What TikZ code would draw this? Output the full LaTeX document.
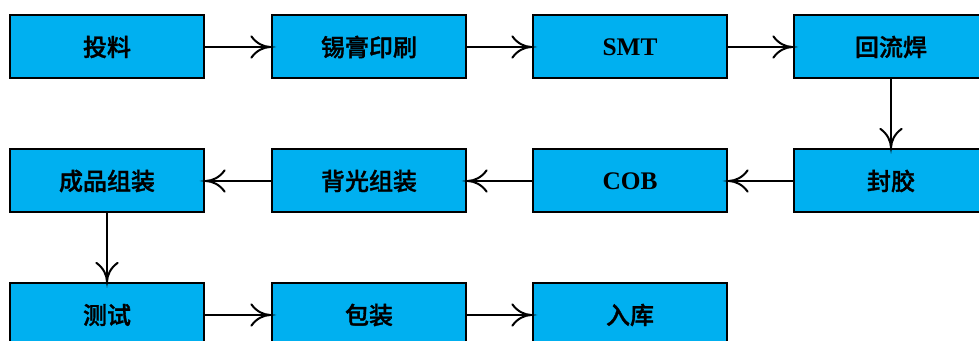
\documentclass[tikz,border=0pt]{standalone}
\usepackage{fontspec}
\setmainfont{Liberation Serif}
\newfontfamily\cjk{Noto Sans CJK SC}[UprightFont=* Medium, BoldFont=* Medium, BoldFeatures={FakeBold=1.2}]
\usetikzlibrary{decorations.markings}
\definecolor{boxblue}{HTML}{00B0F0}
\tikzset{
  procbox/.style={draw=black, line width=1.5pt, fill=boxblue, minimum width=194*0.75pt, minimum height=63*0.75pt, inner sep=0pt, font=\fontsize{18}{20}\selectfont\bfseries},
  latin/.style={font=\fontsize{19}{21}\selectfont\bfseries},
  flow/.style={draw=black, line width=1.5pt, postaction={decorate, decoration={markings, mark=at position 1 with {
    \draw[line width=1.5pt, line cap=round] (-14.75pt,8pt) .. controls (-10.75pt,2.5pt) and (-5.75pt,0.3pt) .. (-0.75pt,0) .. controls (-5.75pt,-0.3pt) and (-10.75pt,-2.5pt) .. (-14.75pt,-8pt);}}}}
}
\begin{document}
\begin{tikzpicture}[x=0.75pt,y=-0.75pt]
\useasboundingbox (0,0) rectangle (979,341);
\node[procbox] (a1) at (107,47) {\cjk 投料};
\node[procbox] (a2) at (369,47) {\cjk 锡膏印刷};
\node[procbox, latin] (a3) at (630,47) {SMT};
\node[procbox] (a4) at (891,47) {\cjk 回流焊};
\node[procbox] (b4) at (891,181) {\cjk 封胶};
\node[procbox, latin] (b3) at (630,181) {COB};
\node[procbox] (b2) at (369,181) {\cjk 背光组装};
\node[procbox] (b1) at (107,181) {\cjk 成品组装};
\node[procbox] (c1) at (107,315) {\cjk 测试};
\node[procbox] (c2) at (369,315) {\cjk 包装};
\node[procbox] (c3) at (630,315) {\cjk 入库};
\draw[flow] (a1) -- (a2);
\draw[flow] (a2) -- (a3);
\draw[flow] (a3) -- (a4);
\draw[flow] (a4) -- (b4);
\draw[flow] (b4) -- (b3);
\draw[flow] (b3) -- (b2);
\draw[flow] (b2) -- (b1);
\draw[flow] (b1) -- (c1);
\draw[flow] (c1) -- (c2);
\draw[flow] (c2) -- (c3);
\end{tikzpicture}
\end{document}
